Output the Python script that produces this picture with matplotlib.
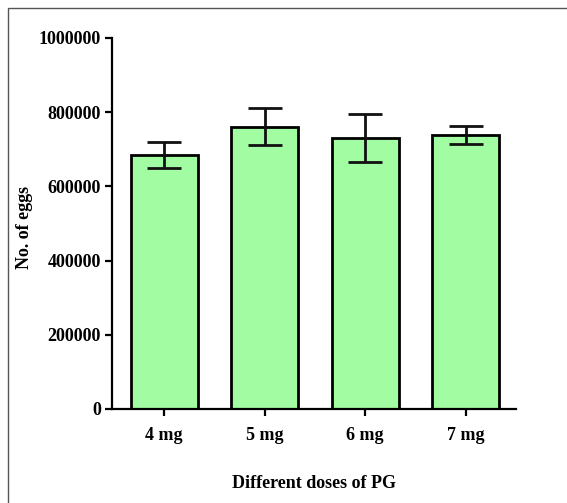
import matplotlib
matplotlib.use('Agg')
import matplotlib.pyplot as plt
from matplotlib.patches import Rectangle

# 数据：不同剂量PG对应的产卵数
doses = ['4 mg', '5 mg', '6 mg', '7 mg']
eggs = [684000, 761000, 730000, 739000]
err = [35000, 50000, 65000, 25000]
yticks = [0, 200000, 400000, 600000, 800000, 1000000]

plt.rcParams['font.family'] = ['Liberation Serif', 'DejaVu Serif']
plt.rcParams['font.weight'] = 'bold'

fig = plt.figure(figsize=(5.67, 5.03), dpi=100)
ax = fig.add_axes([0.1975, 0.187, 0.7125, 0.7375])

x = range(len(doses))
ax.bar(x, eggs, width=0.67, color='#a2fca2', edgecolor='black', linewidth=2.0,
       yerr=err, capsize=12, error_kw=dict(ecolor='#111111', elinewidth=2.0, capthick=2.0))

ax.set_xlim(-0.52, 3.5)
ax.set_ylim(0, 1000000)
ax.set_yticks(yticks)
ax.set_yticklabels([str(v) for v in yticks])
ax.set_xticks(list(x))
ax.set_xticklabels(doses)

ax.spines['top'].set_visible(False)
ax.spines['right'].set_visible(False)
ax.spines['left'].set_linewidth(1.6)
ax.spines['bottom'].set_linewidth(1.6)
ax.tick_params(axis='both', width=1.6, length=5, labelsize=13, pad=3)
ax.tick_params(axis='x', pad=8)

ax.set_ylabel('No. of eggs', fontsize=13, fontweight='bold')
ax.yaxis.set_label_coords(-0.195, 0.49)
ax.set_xlabel('Different doses of PG', fontsize=13, fontweight='bold', labelpad=22)

# 外框
fig.patches.append(Rectangle((8 / 567, -0.1), 1.2, (503 - 8) / 503 + 0.1,
                             transform=fig.transFigure, fill=False,
                             edgecolor='#555555', linewidth=1.0))

fig.savefig('out.png', dpi=100)
